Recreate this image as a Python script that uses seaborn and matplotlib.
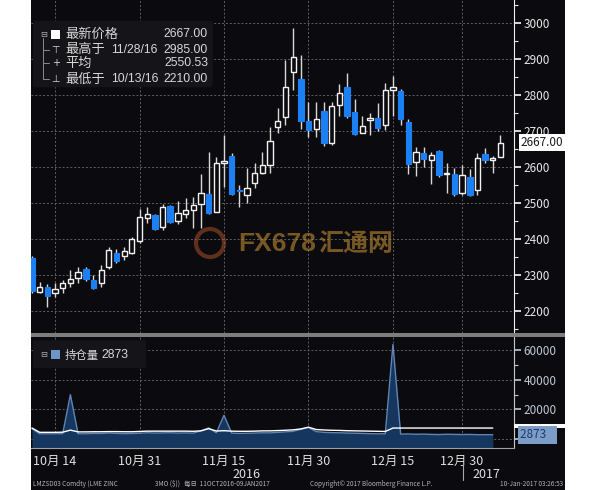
import numpy as np
import pandas as pd
import seaborn as sns
import matplotlib.pyplot as plt
import matplotlib.transforms as mtransforms
from matplotlib.patches import Rectangle, FancyBboxPatch, Ellipse
from matplotlib.ticker import MultipleLocator

sns.set_style("dark")
plt.rcParams['font.family'] = ['Noto Sans CJK SC', 'DejaVu Sans']
plt.rcParams['axes.unicode_minus'] = False

## DATA (LME zinc 3M, daily, 11 Oct 2016 - 09 Jan 2017)
dates = ['10/11', '10/12', '10/13', '10/14', '10/17', '10/18', '10/19', '10/20', '10/21',
         '10/24', '10/25', '10/26', '10/27', '10/28', '10/31',
         '11/01', '11/02', '11/03', '11/04', '11/07', '11/08', '11/09', '11/10', '11/11',
         '11/14', '11/15', '11/16', '11/17', '11/18', '11/21', '11/22', '11/23', '11/24',
         '11/25', '11/28', '11/29', '11/30',
         '12/01', '12/02', '12/05', '12/06', '12/07', '12/08', '12/09', '12/12', '12/13',
         '12/14', '12/15', '12/16', '12/19', '12/20', '12/21', '12/22', '12/23', '12/28',
         '12/29', '12/30',
         '01/03', '01/04', '01/05', '01/06', '01/09']

opens = [2345, 2252, 2266, 2250, 2263, 2278, 2290, 2315, 2285, 2276, 2320, 2361, 2352, 2361, 2394,
         2458, 2465, 2433, 2491, 2450, 2469, 2480, 2496, 2523, 2475, 2609, 2630, 2535, 2521, 2554,
         2582, 2605, 2711, 2739, 2864, 2843, 2727, 2704, 2756, 2665, 2771, 2821, 2753, 2694, 2730,
         2734, 2716, 2813, 2810, 2725, 2614, 2639, 2619, 2644, 2580, 2579, 2526, 2571, 2535, 2635,
         2619, 2626]
highs = [2352, 2280, 2274, 2277, 2285, 2313, 2322, 2322, 2299, 2327, 2376, 2370, 2376, 2404, 2482,
         2487, 2468, 2496, 2493, 2506, 2512, 2517, 2580, 2642, 2628, 2688, 2637, 2549, 2596, 2610,
         2642, 2711, 2762, 2896, 2985, 2910, 2781, 2781, 2781, 2781, 2830, 2861, 2788, 2742, 2748,
         2777, 2832, 2852, 2816, 2733, 2656, 2654, 2642, 2646, 2611, 2596, 2605, 2593, 2639, 2651,
         2630, 2688]
lows = [2248, 2249, 2210, 2238, 2250, 2267, 2276, 2283, 2259, 2265, 2315, 2333, 2341, 2357, 2387,
        2444, 2424, 2424, 2443, 2441, 2457, 2429, 2429, 2469, 2473, 2544, 2522, 2489, 2500, 2541,
        2580, 2582, 2693, 2716, 2813, 2705, 2683, 2683, 2657, 2660, 2741, 2734, 2688, 2693, 2688,
        2700, 2702, 2741, 2716, 2580, 2575, 2600, 2551, 2571, 2526, 2519, 2521, 2519, 2521, 2611,
        2582, 2626]
closes = [2255, 2266, 2241, 2259, 2278, 2289, 2308, 2287, 2262, 2313, 2369, 2339, 2367, 2398, 2461,
          2468, 2426, 2489, 2447, 2472, 2480, 2494, 2528, 2471, 2609, 2616, 2524, 2533, 2542, 2582,
          2605, 2672, 2727, 2822, 2904, 2727, 2702, 2733, 2667, 2769, 2804, 2741, 2691, 2713, 2734,
          2707, 2813, 2821, 2732, 2608, 2640, 2621, 2632, 2577, 2582, 2523, 2577, 2521, 2623, 2619,
          2625, 2667]
avg_price = 2550.53

# open interest (lots), one day behind the price series
open_interest = [7000, 3500, 3500, 3500, 3600, 30000, 3500, 3500, 3800, 3700, 4000, 3800, 3600,
                 3700, 3900, 4200, 4000, 4100, 4200, 4000, 4100, 4000, 5500, 7500, 4200, 16000,
                 4000, 3800, 3900, 4000, 4200, 4100, 4500, 4800, 5200, 6500, 7800, 5000, 4500,
                 4300, 4200, 4000, 3900, 3800, 3600, 3500, 3500, 64000, 3300, 3400, 3200, 3300,
                 3100, 3000, 3200, 3100, 3000, 3100, 2900, 2900, 2873]
oi_ref = [7400, 4500, 4500, 4500, 4600, 6000, 4800, 4800, 4900, 4900, 5000, 5000, 4900, 4900,
          5100, 5300, 5300, 5300, 5300, 5300, 5300, 5200, 5500, 7000, 5400, 5600, 5300, 5200,
          5200, 5300, 5500, 5500, 5700, 5900, 6200, 6800, 8000, 6400, 6100, 5900, 5800, 5600,
          5500, 5400, 5300, 5200, 5100, 7400, 7400, 7400, 7400, 7400, 7400, 7400, 7400, 7400,
          7400, 7400, 7400, 7400, 7400]

tick_dates = ['10/14', '10/31', '11/15', '11/30', '12/15', '12/30']
tick_labels = ['10月 14', '10月 31', '11月 15', '11月 30', '12月 15', '12月 30']
minor_dates = ['10/21', '11/08', '11/23', '12/08', '12/21', '01/09']

## FRAME
bg = '#0b0b0f'
W, H = 597, 490
fig = plt.figure(figsize=(W / 100, H / 100), dpi=100)
fig.patch.set_facecolor('white')
fig.add_artist(Rectangle((31 / W, 0), 534 / W, 1, transform=fig.transFigure,
                         facecolor=bg, edgecolor='none', zorder=-10))

ax1 = fig.add_axes([31 / W, 1 - 333 / H, 483 / W, 333 / H])
ax2 = fig.add_axes([31 / W, 1 - 448 / H, 483 / W, 111 / H], sharex=ax1)
fig.add_artist(Rectangle((31 / W, 1 - 337 / H), 534 / W, 4 / H, transform=fig.transFigure,
                         facecolor='#7d7d7d', edgecolor='none'))

for ax in (ax1, ax2):
    ax.set_facecolor(bg)
    for s in ('top', 'left', 'bottom'):
        ax.spines[s].set_visible(False)
    ax.yaxis.tick_right()
ax1.spines['right'].set_color('#f0f0f0')
ax2.spines['right'].set_color('#c8c8c8')
ax2.spines['bottom'].set_visible(True)
ax2.spines['bottom'].set_color('#a0a0a0')

## CANDLES
df = pd.DataFrame({'date': dates, 'open': opens, 'high': highs, 'low': lows, 'close': closes})
df['x'] = np.arange(len(df))
up = df[df['close'] >= df['open']]
dn = df[df['close'] < df['open']]
ax1.vlines(df['x'], df['low'], df['high'], color='#d8d8d8', lw=1, zorder=2)
ax1.bar(up['x'], (up['close'] - up['open']).clip(lower=1), bottom=up['open'], width=0.68,
        facecolor=bg, edgecolor='#f2f2f2', lw=1, zorder=3)
ax1.bar(dn['x'], (dn['open'] - dn['close']).clip(lower=1), bottom=dn['close'], width=0.72,
        facecolor='#1b80f3', edgecolor='#1b80f3', lw=0.8, zorder=3)

ax1.set_xlim(-0.13, 62.76)
ax1.set_ylim(2138, 3063)
ax1.set_yticks(range(2200, 3001, 100))
ax1.yaxis.set_minor_locator(MultipleLocator(50))
ax1.tick_params(axis='y', which='major', colors='#e8e8e8', labelsize=8.5, length=5, width=1.3, pad=2)
ax1.tick_params(axis='y', which='minor', colors='#e8e8e8', length=3, width=0.8)
ax1.tick_params(axis='x', which='both', bottom=False, labelbottom=False)

tick_pos = [dates.index(d) for d in tick_dates]
minor_pos = [dates.index(d) for d in minor_dates]
grid_kw = dict(color='#606060', ls=(0, (2, 2)), lw=0.7)
ax1.grid(True, which='major', **grid_kw)
ax1.set_xticks(tick_pos)

## OPEN INTEREST
oi_df = pd.DataFrame({'x': np.arange(len(open_interest)), 'oi': open_interest, 'ref': oi_ref})
oi_low, oi_high = -6100, 69000
ax2.fill_between(oi_df['x'], oi_df['oi'], oi_low, color='#15375f', lw=0, zorder=2)
sns.lineplot(data=oi_df, x='x', y='oi', ax=ax2, color='#5f86b6', lw=1, zorder=3)
sns.lineplot(data=oi_df, x='x', y='ref', ax=ax2, color='white', lw=1, zorder=4)
ax2.set_xlabel('')
ax2.set_ylabel('')
ax2.set_ylim(oi_low, oi_high)
ax2.set_yticks([0, 20000, 40000, 60000], ['', '20000', '40000', '60000'])
ax2.yaxis.set_minor_locator(MultipleLocator(10000))
ax2.tick_params(axis='y', which='major', colors='#c0c8d4', labelsize=8.5, length=5, width=1.2, pad=2)
ax2.tick_params(axis='y', which='minor', colors='#c0c8d4', length=3, width=0.8)
ax2.set_xticks(tick_pos, tick_labels)
ax2.set_xticks(minor_pos, minor=True)
ax2.tick_params(axis='x', which='both', colors='#e0e0e0', labelsize=9, length=3, width=1, pad=2)
ax2.grid(True, which='major', **grid_kw)

# years under the date axis
tr2 = mtransforms.blended_transform_factory(ax2.transData, ax2.transAxes)
ax2.text(27.9, -0.235, '2016', transform=tr2, ha='center', va='center', color='#e0e0e0', fontsize=9)
ax2.text(59.2, -0.235, '2017', transform=tr2, ha='center', va='center', color='#e0e0e0', fontsize=9)
ax2.plot([56.1, 56.1], [-0.14, -0.29], transform=tr2, clip_on=False, color='#aaaaaa', lw=0.8)

## LAST-VALUE TAGS
tr1 = mtransforms.blended_transform_factory(ax1.transAxes, ax1.transData)
ax1.text(1.013, closes[-1], f'{closes[-1]:.2f}', transform=tr1, ha='left', va='center',
         fontsize=8.5, color='#1a1a1a', clip_on=False, zorder=10,
         bbox=dict(boxstyle='square,pad=0.15', fc='white', ec='none'))
tr2y = mtransforms.blended_transform_factory(ax2.transAxes, ax2.transData)
ax2.add_patch(Rectangle((1.0, oi_ref[-1]), 0.105, 2500, transform=tr2y, fc='white', ec='none',
                        clip_on=False, zorder=10))
ax2.text(1.013, open_interest[-1], f'{open_interest[-1]}   ', transform=tr2y, ha='left', va='center',
         fontsize=8.5, color='#1c3d6c', clip_on=False, zorder=11,
         bbox=dict(boxstyle='square,pad=0.2', fc='#7b9dc7', ec='none'))

## LEGENDS
txt = '#d8d8d8'
num_font = ['Liberation Sans', 'DejaVu Sans']
ax1.add_patch(FancyBboxPatch((0.004, 0.738), 0.372, 0.2, boxstyle='round,pad=0,rounding_size=0.008',
                             transform=ax1.transAxes, fc='#141419', ec='none', zorder=5))
rows = [0.897, 0.850, 0.810, 0.763]
ax1.plot([0.0255, 0.0255], [0.885, 0.763], transform=ax1.transAxes, color='#8c8c8c', lw=0.7, zorder=6)
for r in rows[1:]:
    ax1.plot([0.0255, 0.038], [r, r], transform=ax1.transAxes, color='#8c8c8c', lw=0.7, zorder=6)
ax1.text(0.0255, rows[0], '⊟', transform=ax1.transAxes, ha='center', va='center',
         fontsize=6, color='#b0b0b0', family=['DejaVu Sans'], zorder=7)
ax1.add_patch(Rectangle((0.041, rows[0] - 0.0135), 0.0186, 0.027, transform=ax1.transAxes,
                        fc='white', ec='none', zorder=7))
for r, sym in zip(rows[1:], ['⊤', '+', '⊥']):
    ax1.text(0.051, r, sym, transform=ax1.transAxes, ha='center', va='center',
             fontsize=7, color=txt, family=['DejaVu Sans'], zorder=7)
hi_i = int(np.argmax(highs))
lo_i = int(np.argmin(lows))
names = ['最新价格', '最高于', '平均', '最低于']
vals = [f'{closes[-1]:.2f}', f'{highs[hi_i]:.2f}', f'{avg_price:.2f}', f'{lows[lo_i]:.2f}']
for r, n, v in zip(rows, names, vals):
    ax1.text(0.0704, r, n, transform=ax1.transAxes, ha='left', va='center', fontsize=9.5,
             color=txt, zorder=7)
    ax1.text(0.3665, r, v, transform=ax1.transAxes, ha='right', va='center', fontsize=8.8,
             color=txt, family=num_font, zorder=7)
ax1.text(0.166, rows[1], dates[hi_i] + '/16', transform=ax1.transAxes, ha='left', va='center',
         fontsize=8.8, color=txt, family=num_font, zorder=7)
ax1.text(0.166, rows[3], dates[lo_i] + '/16', transform=ax1.transAxes, ha='left', va='center',
         fontsize=8.8, color=txt, family=num_font, zorder=7)

ax2.add_patch(FancyBboxPatch((0.004, 0.72), 0.234, 0.25, boxstyle='round,pad=0,rounding_size=0.008',
                             transform=ax2.transAxes, fc='#141419', ec='none', zorder=5))
ax2.text(0.0255, 0.838, '⊟', transform=ax2.transAxes, ha='center', va='center',
         fontsize=6, color='#b0b0b0', family=['DejaVu Sans'], zorder=7)
ax2.add_patch(Rectangle((0.041, 0.7975), 0.0186, 0.081, transform=ax2.transAxes,
                        fc='#6d95c6', ec='none', zorder=7))
ax2.text(0.0704, 0.838, '持仓量', transform=ax2.transAxes, ha='left', va='center',
         fontsize=8.2, color=txt, zorder=7)
ax2.text(0.145, 0.838, f'{open_interest[-1]}', transform=ax2.transAxes, ha='left', va='center',
         fontsize=8.8, color=txt, family=num_font, zorder=7)

## WATERMARK
fig.add_artist(Ellipse((210 / W, 1 - 243 / H), 28 / W, 28 / H, transform=fig.transFigure,
                       fill=False, ec='#a8502a', lw=3, alpha=0.55))
fig.text(238 / W, 1 - 244 / H, 'FX678', color='#c08a30', alpha=0.6, fontsize=19, fontweight='bold',
         family=['Liberation Sans', 'DejaVu Sans'], ha='left', va='center')
fig.text(318 / W, 1 - 244 / H, '汇通网', color='#c08a30', alpha=0.6, fontsize=18, fontweight='bold',
         ha='left', va='center')

## FOOTER
foot = dict(fontsize=4.6, color='#b4b4b4', va='center')
fig.text(33 / W, 1 - 484 / H, 'LMZSD03 Comdty (LME ZINC', ha='left', **foot)
fig.text(155 / W, 1 - 484 / H, '3MO ($))   每日  11OCT2016-09JAN2017', ha='left', **foot)
fig.text(310 / W, 1 - 484 / H, 'Copyright© 2017 Bloomberg Finance L.P.', ha='left', **foot)
fig.text(563 / W, 1 - 484 / H, '10-Jan-2017 03:26:53', ha='right', **foot)

fig.savefig('out.png', dpi=100, facecolor=fig.get_facecolor())
